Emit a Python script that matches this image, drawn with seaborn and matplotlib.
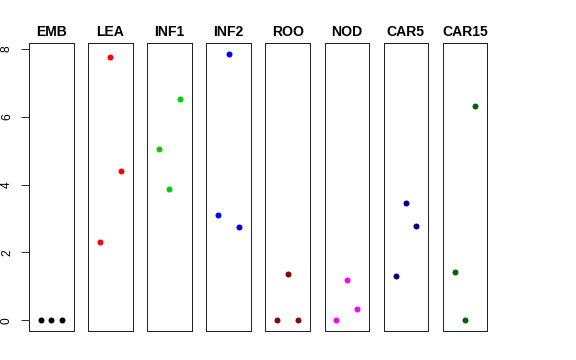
import matplotlib
matplotlib.use("Agg")
import matplotlib.pyplot as plt
from matplotlib.patches import Rectangle
import seaborn as sns
import pandas as pd

sns.set_style("white")
plt.rcParams['font.family'] = ['Liberation Sans', 'DejaVu Sans']
plt.rcParams['text.color'] = 'black'
plt.rcParams['axes.labelcolor'] = 'black'
plt.rcParams['ytick.labelcolor'] = 'black'
plt.rcParams['ytick.left'] = True

tissues = ["EMB", "LEA", "INF1", "INF2", "ROO", "NOD", "CAR5", "CAR15"]
colors = ["#000000", "#FF0000", "#00CD00", "#0000FF", "#8B0000", "#FF00FF", "#00008B", "#006400"]
replicate = [1, 2, 3]
values = {
    "EMB":   [0.00, 0.00, 0.00],
    "LEA":   [2.30, 7.77, 4.40],
    "INF1":  [5.04, 3.87, 6.51],
    "INF2":  [3.09, 7.86, 2.76],
    "ROO":   [0.00, 1.37, 0.00],
    "NOD":   [0.00, 1.18, 0.33],
    "CAR5":  [1.32, 3.46, 2.77],
    "CAR15": [1.42, 0.00, 6.33],
}
yticks = [0, 2, 4, 6, 8]

W, H = 576, 360
fig = plt.figure(figsize=(W / 72, H / 72), dpi=72)
fig.patch.set_facecolor("white")

left0, step, pw = 29.0, 59.1, 44.5
top, bottom = 43.0, 331.0
ymax = max(max(v) for v in values.values())
pad = 0.04 * ymax

for i, (t, c) in enumerate(zip(tissues, colors)):
    lx = left0 + i * step
    ax = fig.add_axes([lx / W, (H - bottom) / H, pw / W, (bottom - top) / H])
    df = pd.DataFrame({"rep": replicate, "value": values[t]})
    sns.scatterplot(data=df, x="rep", y="value", ax=ax, color=c, s=36,
                    linewidth=0, legend=False, clip_on=False)
    ax.set_xlim(-0.16, 4.16)
    ax.set_ylim(-pad, ymax + pad)
    ax.set_xlabel("")
    ax.set_ylabel("")
    ax.set_xticks([])
    for s in ax.spines.values():
        s.set_visible(True)
        s.set_color("#222222")
        s.set_linewidth(1.0)
    ax.set_title(t, fontsize=14, fontweight="bold", pad=7, color="black")
    if i == 0:
        ax.set_yticks(yticks)
        ax.set_yticklabels([str(v) for v in yticks], rotation=90, va="center", fontsize=12)
        ax.tick_params(axis="y", which="major", direction="out", length=8, width=1.0,
                       color="#333333", labelcolor="black", pad=8, left=True)
    else:
        ax.set_yticks([])

fig.savefig("out.png", dpi=72, facecolor="white")
